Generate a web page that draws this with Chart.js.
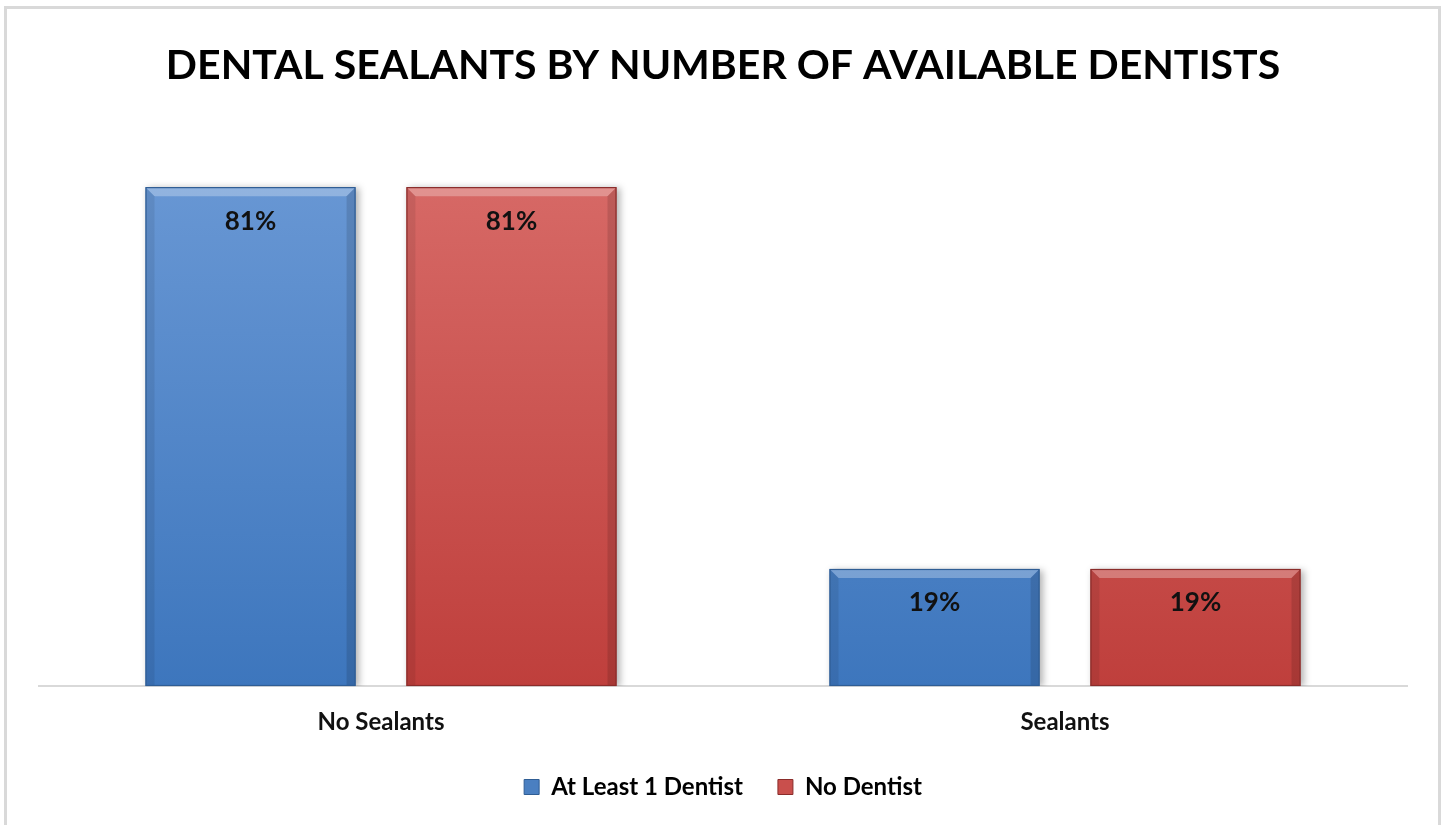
<!DOCTYPE html>
<html>
<head>
<meta charset="utf-8">
<script src="https://cdn.jsdelivr.net/npm/chart.js@4"></script>
<style>
  html, body { margin: 0; padding: 0; background: #ffffff; overflow: hidden; }
  #wrap { position: relative; width: 1445px; height: 825px; }
  #frame { position: absolute; left: 4px; top: 6px; width: 1437px; height: 840px;
           border: 3px solid #d9d9d9; box-sizing: border-box; pointer-events: none; }
  canvas { position: absolute; left: 0; top: 0; }
</style>
</head>
<body>
<div id="wrap">
  <canvas id="chart" width="1445" height="825"></canvas>
  <div id="frame"></div>
</div>
<script>
// Share of children with / without dental sealants, by dentist availability
const categories = ['No Sealants', 'Sealants'];
const seriesNames = ['At Least 1 Dentist', 'No Dentist'];
const atLeastOneDentist = [81, 19];
const noDentist = [81, 19];
const chartTitle = 'DENTAL SEALANTS BY NUMBER OF AVAILABLE DENTISTS';

const FONT = 'Lato, "Liberation Sans", sans-serif';

const palettes = [
  { top: '#6c9ad6', bottom: '#3d76bd', edge: '#2f5d94', solid: '#4a7fc1' },
  { top: '#d96d6a', bottom: '#bf3f3c', edge: '#8a2c2a', solid: '#c94f4c' }
];

function barGradient(ctx, pal) {
  const chart = ctx.chart;
  const area = chart.chartArea;
  if (!area) return pal.solid;
  const el = ctx.element;
  const top = el && el.y !== undefined ? el.y : area.top;
  const base = el && el.base !== undefined ? el.base : area.bottom;
  const g = chart.ctx.createLinearGradient(0, Math.min(top, base - 1), 0, base);
  g.addColorStop(0, pal.top);
  g.addColorStop(1, pal.bottom);
  return g;
}

// Bevel edges, soft drop shadow and value labels on every bar
const bevelPlugin = {
  id: 'bevel',
  beforeDatasetDraw(chart) {
    const c = chart.ctx;
    c.save();
    c.shadowColor = 'rgba(0,0,0,0.30)';
    c.shadowBlur = 7;
    c.shadowOffsetX = 3;
    c.shadowOffsetY = 1;
  },
  afterDatasetDraw(chart) {
    chart.ctx.restore();
  },
  afterDatasetsDraw(chart) {
    const c = chart.ctx;
    chart.data.datasets.forEach((ds, di) => {
      const meta = chart.getDatasetMeta(di);
      meta.data.forEach((bar, i) => {
        const { x, y, base, width } = bar.getProps(['x', 'y', 'base', 'width'], true);
        const l = x - width / 2, r = x + width / 2, t = y, b = base;
        const s = 9;
        c.save();
        // top highlight
        c.beginPath();
        c.moveTo(l, t); c.lineTo(r, t); c.lineTo(r - s, t + s); c.lineTo(l + s, t + s); c.closePath();
        c.fillStyle = 'rgba(255,255,255,0.28)';
        c.fill();
        // left edge
        c.beginPath();
        c.moveTo(l, t); c.lineTo(l + s, t + s); c.lineTo(l + s, b); c.lineTo(l, b); c.closePath();
        c.fillStyle = 'rgba(0,0,0,0.08)';
        c.fill();
        // right edge
        c.beginPath();
        c.moveTo(r, t); c.lineTo(r - s, t + s); c.lineTo(r - s, b); c.lineTo(r, b); c.closePath();
        c.fillStyle = 'rgba(0,0,0,0.12)';
        c.fill();
        // outline
        c.strokeStyle = palettes[di].edge;
        c.lineWidth = 1.2;
        c.strokeRect(l + 0.5, t + 0.5, width - 1, b - t - 1);
        // value label
        c.fillStyle = '#111111';
        c.font = 'bold 26px ' + FONT;
        c.textAlign = 'center';
        c.textBaseline = 'middle';
        c.fillText(ds.data[i] + '%', x, t + 34);
        c.restore();
      });
    });
  }
};

new Chart(document.getElementById('chart'), {
  type: 'bar',
  data: {
    labels: categories,
    datasets: [
      { label: seriesNames[0], data: atLeastOneDentist,
        backgroundColor: (ctx) => barGradient(ctx, palettes[0]), borderWidth: 0 },
      { label: seriesNames[1], data: noDentist,
        backgroundColor: (ctx) => barGradient(ctx, palettes[1]), borderWidth: 0 }
    ]
  },
  options: {
    responsive: false,
    animation: false,
    devicePixelRatio: 1,
    layout: { padding: { left: 39, right: 38, top: 0, bottom: 16 } },
    datasets: { bar: { categoryPercentage: 0.763, barPercentage: 0.805 } },
    scales: {
      x: {
        grid: { display: false, drawTicks: false },
        border: { display: true, color: '#d9d9d9', width: 2 },
        ticks: { color: '#111111', padding: 22, font: { family: FONT, size: 24, weight: 'bold' } },
        afterFit(scale) { scale.height = 54; }
      },
      y: { display: false, min: 0, max: 90 }
    },
    plugins: {
      title: {
        display: true,
        text: chartTitle,
        color: '#000000',
        font: { family: FONT, size: 41, weight: 'bold' },
        padding: { top: 41, bottom: 41.5 }
      },
      legend: {
        position: 'bottom',
        labels: {
          color: '#111111',
          font: { family: FONT, size: 24, weight: 'bold' },
          boxWidth: 15,
          boxHeight: 15,
          padding: 35,
          generateLabels(chart) {
            return chart.data.datasets.map((ds, i) => ({
              text: ds.label,
              fillStyle: palettes[i].solid,
              strokeStyle: palettes[i].edge,
              lineWidth: 1,
              datasetIndex: i,
              hidden: false
            }));
          }
        }
      },
      tooltip: { enabled: false }
    }
  },
  plugins: [bevelPlugin]
});
</script>
</body>
</html>
